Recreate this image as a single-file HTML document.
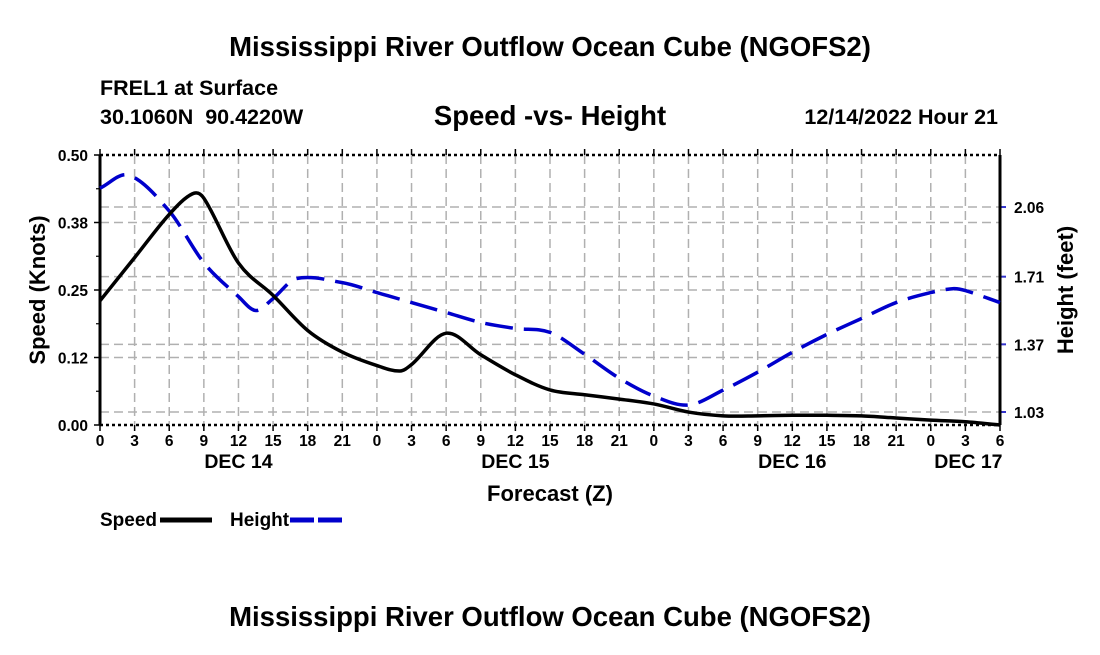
<!DOCTYPE html>
<html><head><meta charset="utf-8"><style>
body{margin:0;background:#fff;width:1100px;height:650px;overflow:hidden;font-family:"Liberation Sans",Arial,sans-serif;}
svg text{font-family:"Liberation Sans",Arial,sans-serif;font-weight:bold;fill:#000;white-space:pre;}
</style></head><body>
<svg id="chart" width="1100" height="650" viewBox="0 0 1100 650" xmlns="http://www.w3.org/2000/svg">
<text x="550" y="56" font-size="27.5" text-anchor="middle">Mississippi River Outflow Ocean Cube (NGOFS2)</text>
<text x="100" y="95" font-size="21.5">FREL1 at Surface</text>
<text x="100" y="124" font-size="21.5" xml:space="preserve">30.1060N  90.4220W</text>
<text x="550" y="125" font-size="27.5" text-anchor="middle">Speed -vs- Height</text>
<text x="998" y="124" font-size="21.5" text-anchor="end">12/14/2022 Hour 21</text>
<g id="grid"></g>
<g id="axes"></g>
<g id="series"></g>
<text transform="translate(45,290) rotate(-90)" font-size="22" text-anchor="middle">Speed (Knots)</text>
<text transform="translate(1073,290) rotate(-90)" font-size="22" text-anchor="middle">Height (feet)</text>
<text x="550" y="501" font-size="22" text-anchor="middle">Forecast (Z)</text>
<g><text x="100" y="526" font-size="19">Speed</text><line x1="160" y1="520" x2="212" y2="520" stroke="#000" stroke-width="5"/></g>
<g><text x="230" y="526" font-size="19">Height</text><line x1="290" y1="520" x2="342" y2="520" stroke="#0000cc" stroke-width="5" stroke-dasharray="24,4"/></g>
<text x="550" y="626" font-size="27.5" text-anchor="middle">Mississippi River Outflow Ocean Cube (NGOFS2)</text>
</svg>
<script>
const speedHours=[0,3,6,8,9,12,15,18,21,24,26,27,30,33,36,39,42,45,48,51,54,57,60,63,66,69,72,75,78];
const speedValues=[0.23,0.31,0.39,0.428,0.42,0.30,0.24,0.175,0.135,0.11,0.10,0.112,0.17,0.13,0.093,0.065,0.056,0.048,0.039,0.024,0.017,0.017,0.018,0.018,0.017,0.013,0.009,0.006,0.0];
const heightHours=[0,2.5,6,9,12,13.5,15,17,21,24,27,30,33,36,39,42,45,48,51,54,57,60,63,66,69,72,74,75,78];
const heightValues=[2.155,2.22,2.04,1.78,1.61,1.54,1.60,1.70,1.68,1.63,1.58,1.53,1.48,1.45,1.43,1.32,1.20,1.11,1.065,1.14,1.23,1.33,1.42,1.50,1.58,1.63,1.65,1.64,1.58];
const leftTicks=[0,0.125,0.25,0.375,0.5];
const leftTickLabels=["0.00","0.12","0.25","0.38","0.50"];
const rightTicks=[1.03,1.37,1.71,2.06];
const xTickLabels=["0","3","6","9","12","15","18","21","0","3","6","9","12","15","18","21","0","3","6","9","12","15","18","21","0","3","6"];
const dayLabels=["DEC 14","DEC 15","DEC 16","DEC 17"];
const dayHours=[12,36,60,75];

const X0=100,X1=1000,YT=155,YB=425;
const x=h=>X0+h*(X1-X0)/78;
const yL=v=>YB-v*(YB-YT)/0.5;
const yR=f=>412-(f-1.03)*199;
const NS="http://www.w3.org/2000/svg";
function mk(tag,attrs,parent){const e=document.createElementNS(NS,tag);for(const k in attrs)e.setAttribute(k,attrs[k]);parent.appendChild(e);return e;}
const grid=document.getElementById('grid'),axes=document.getElementById('axes'),series=document.getElementById('series');
const gs={stroke:"#b0b0b0","stroke-width":1.5,"stroke-dasharray":"9,5",fill:"none"};
xTickLabels.forEach((l,i)=>{const h=i*3;
 if(i>0&&i<26){const g=mk('line',Object.assign({x1:x(h),x2:x(h),y1:YT,y2:YB},gs),grid);}
 mk('line',{x1:x(h),x2:x(h),y1:YB,y2:YB+6,stroke:"#000","stroke-width":1.5},axes);
 mk('line',{x1:x(h),x2:x(h),y1:YT,y2:YT-6,stroke:"#000","stroke-width":1.5},axes);
 const t=mk('text',{x:x(h),y:YB+21,"font-size":15.5,"text-anchor":"middle"},axes);t.textContent=l;
 
});
dayLabels.forEach((d,i)=>{const t=mk('text',{x:x(dayHours[i])+(i==3?3:0),y:YB+43,"font-size":19.5,"text-anchor":"middle"},axes);t.textContent=d;
 });
leftTicks.forEach((v,i)=>{
 if(i>0&&i<4){const g=mk('line',Object.assign({x1:X0,x2:X1,y1:yL(v),y2:yL(v)},gs),grid);}
 mk('line',{x1:X0-6,x2:X0,y1:yL(v),y2:yL(v),stroke:"#000","stroke-width":1.5},axes);
 const t=mk('text',{x:X0-12,y:yL(v)+6,"font-size":15.5,"text-anchor":"end"},axes);t.textContent=leftTickLabels[i];
 
});
for(let v=0.0625;v<0.5;v+=0.125){mk('line',{x1:X0-4,x2:X0,y1:yL(v),y2:yL(v),stroke:"#000","stroke-width":1.2},axes);}
rightTicks.forEach(f=>{
 const g=mk('line',Object.assign({x1:X0,x2:X1,y1:yR(f),y2:yR(f)},gs),grid);
 mk('line',{x1:X1,x2:X1+6,y1:yR(f),y2:yR(f),stroke:"#3333cc","stroke-width":2},axes);
 const t=mk('text',{x:X1+14,y:yR(f)+6,"font-size":15.5},axes);t.textContent=f.toFixed(2);
 
});
mk('line',{x1:X0,x2:X0,y1:YT,y2:YB,stroke:"#000","stroke-width":3},axes);
mk('line',{x1:X1,x2:X1,y1:YT,y2:YB,stroke:"#000","stroke-width":3},axes);
mk('line',{x1:X0,x2:X1,y1:YB,y2:YB,stroke:"#000","stroke-width":2.5,"stroke-dasharray":"3,3"},axes);
mk('line',{x1:X0,x2:X1,y1:YT,y2:YT,stroke:"#000","stroke-width":2.5,"stroke-dasharray":"3,3"},axes);
function smooth(pts){let d=`M${pts[0][0]},${pts[0][1]}`;
 for(let i=0;i<pts.length-1;i++){const p0=pts[Math.max(0,i-1)],p1=pts[i],p2=pts[i+1],p3=pts[Math.min(pts.length-1,i+2)];
  const s1=(p2[0]-p1[0])/(p2[0]-p0[0]||1),s2=(p2[0]-p1[0])/(p3[0]-p1[0]||1);
  d+=` C${p1[0]+(p2[0]-p0[0])*s1/3},${p1[1]+(p2[1]-p0[1])*s1/3} ${p2[0]-(p3[0]-p1[0])*s2/3},${p2[1]-(p3[1]-p1[1])*s2/3} ${p2[0]},${p2[1]}`;}
 return d;}
const hp=mk('path',{d:smooth(heightHours.map((h,i)=>[x(h),yR(heightValues[i])])),stroke:"#0000cc","stroke-width":3.5,fill:"none","stroke-dasharray":"28,11"},series);

const sp=mk('path',{d:smooth(speedHours.map((h,i)=>[x(h),yL(speedValues[i])])),stroke:"#000","stroke-width":3.5,fill:"none"},series);

</script>
</body></html>
